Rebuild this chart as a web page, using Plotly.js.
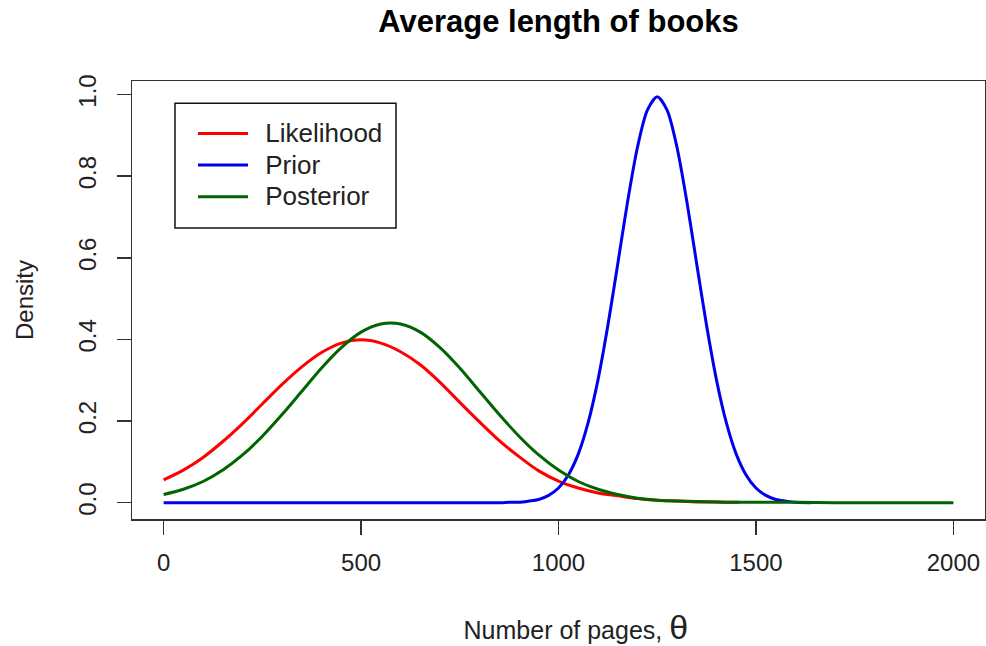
<!DOCTYPE html>
<html>
<head>
<meta charset="utf-8">
<script src="https://cdn.plot.ly/plotly-3.0.1.min.js"></script>
<style>
  html, body { margin: 0; padding: 0; background: #ffffff; }
  #chart { width: 986px; height: 646px; }
</style>
</head>
<body>
<div id="chart"></div>
<script>
// ---- Data ----
var seriesNames = ["Likelihood", "Prior", "Posterior"];

var likelihoodX = [0, 50, 100, 150, 200, 250, 300, 350, 400, 450, 500, 550, 600, 650, 700, 750, 800, 850, 900, 950, 1000, 1050, 1100, 1150, 1200, 1250, 1300, 1350, 1400, 1458];
var likelihoodY = [0.056, 0.080, 0.111, 0.150, 0.194, 0.242, 0.290, 0.333, 0.368, 0.391, 0.399, 0.391, 0.370, 0.338, 0.295, 0.246, 0.198, 0.152, 0.113, 0.078, 0.053, 0.036, 0.024, 0.017, 0.010, 0.006, 0.004, 0.002, 0.002, 0.001];

var priorX = [0, 850, 875, 900, 925, 950, 975, 1000, 1025, 1050, 1075, 1100, 1125, 1150, 1175, 1200, 1225, 1250, 1275, 1300, 1325, 1350, 1375, 1400, 1425, 1450, 1475, 1500, 1525, 1550, 1575, 1600, 1640];
var priorY = [0.000, 0.000, 0.001, 0.001, 0.004, 0.008, 0.018, 0.036, 0.068, 0.119, 0.196, 0.301, 0.434, 0.585, 0.738, 0.871, 0.962, 0.995, 0.962, 0.871, 0.738, 0.585, 0.434, 0.301, 0.196, 0.119, 0.068, 0.036, 0.018, 0.008, 0.004, 0.001, 0.000];

var posteriorX = [0, 50, 100, 150, 200, 250, 300, 350, 400, 450, 500, 550, 600, 650, 700, 750, 800, 850, 900, 950, 1000, 1050, 1100, 1150, 1200, 1250, 1300, 1350, 1400, 1450, 1500, 1600, 1700, 1800, 1900, 2000];
var posteriorY = [0.020, 0.033, 0.052, 0.080, 0.117, 0.163, 0.216, 0.273, 0.330, 0.380, 0.418, 0.438, 0.438, 0.418, 0.380, 0.330, 0.273, 0.216, 0.163, 0.117, 0.080, 0.052, 0.033, 0.020, 0.011, 0.006, 0.004, 0.003, 0.002, 0.001, 0.001, 0.001, 0.000, 0.000, 0.000, 0.000];

var xTickVals = [0, 500, 1000, 1500, 2000];
var xTickText = ["0", "500", "1000", "1500", "2000"];
var yTickVals = [0, 0.2, 0.4, 0.6, 0.8, 1.0];
var yTickText = ["0.0", "0.2", "0.4", "0.6", "0.8", "1.0"];

var seriesColors = ["#ff0000", "#0000ee", "#006400"];

// ---- Chart ----
var FONT = "Liberation Sans, Arial, sans-serif";
var frameColor = "#333333";

function legendLabel(name) {
  return "&nbsp;&nbsp;<span style=\"font-size:26px\">" + name + "</span>";
}

var traces = [
  { x: likelihoodX, y: likelihoodY, name: legendLabel(seriesNames[0]), type: "scatter", mode: "lines",
    line: { color: seriesColors[0], width: 3, shape: "spline", smoothing: 0.8 } },
  { x: priorX, y: priorY, name: legendLabel(seriesNames[1]), type: "scatter", mode: "lines",
    line: { color: seriesColors[1], width: 3, shape: "spline", smoothing: 0.8 } },
  { x: posteriorX, y: posteriorY, name: legendLabel(seriesNames[2]), type: "scatter", mode: "lines",
    line: { color: seriesColors[2], width: 3, shape: "spline", smoothing: 0.8 } }
];

var layout = {
  width: 986,
  height: 646,
  paper_bgcolor: "#ffffff",
  plot_bgcolor: "#ffffff",
  margin: { l: 132, r: 1, t: 81, b: 127, pad: 0 },
  font: { family: FONT, color: "#222222", size: 24 },
  title: {
    text: "Average length of books",
    font: { family: FONT, size: 31, weight: "bold", color: "#000000" },
    x: 0.5, xanchor: "center", xref: "paper",
    y: 0.968, yanchor: "middle", yref: "container"
  },
  xaxis: {
    range: [-80, 2080],
    tickmode: "array", tickvals: xTickVals, ticktext: xTickText,
    ticks: "outside", ticklen: 14, tickwidth: 1.5, tickcolor: frameColor,
    showline: true, linecolor: frameColor, linewidth: 1.5, mirror: true,
    showgrid: false, zeroline: false,
    tickfont: { family: FONT, size: 24, color: "#222222" },
    ticklabelstandoff: 8,
    title: {
      text: "&nbsp;&nbsp;&nbsp;&nbsp;&nbsp;Number of pages, <span style=\"font-size:34px\">θ</span>",
      font: { family: FONT, size: 25, color: "#222222" },
      standoff: 50
    }
  },
  yaxis: {
    range: [-0.0399, 1.0333],
    tickmode: "array", tickvals: yTickVals, ticktext: yTickText,
    tickangle: -90,
    ticks: "outside", ticklen: 14, tickwidth: 1.5, tickcolor: frameColor,
    showline: true, linecolor: frameColor, linewidth: 1.5, mirror: true,
    showgrid: false, zeroline: false,
    tickfont: { family: FONT, size: 24, color: "#222222" },
    ticklabelstandoff: 11,
    title: {
      text: "Density",
      font: { family: FONT, size: 24, color: "#222222" },
      standoff: 33
    }
  },
  showlegend: true,
  legend: {
    x: 0.0715, xanchor: "left", xref: "paper",
    y: 0.9277, yanchor: "top", yref: "paper",
    bgcolor: "rgba(0,0,0,0)",
    borderwidth: 0,
    font: { family: FONT, size: 22, color: "#222222" },
    itemwidth: 50,
    tracegroupgap: 0
  },
  shapes: [
    { type: "rect", xref: "paper", yref: "paper",
      x0: 0.0504, x1: 0.3095, y0: 0.6644, y1: 0.949,
      line: { color: "#111111", width: 1.5 }, fillcolor: "#ffffff", layer: "above" }
  ]
};

Plotly.newPlot("chart", traces, layout, { staticPlot: true, displayModeBar: false });
</script>
</body>
</html>
